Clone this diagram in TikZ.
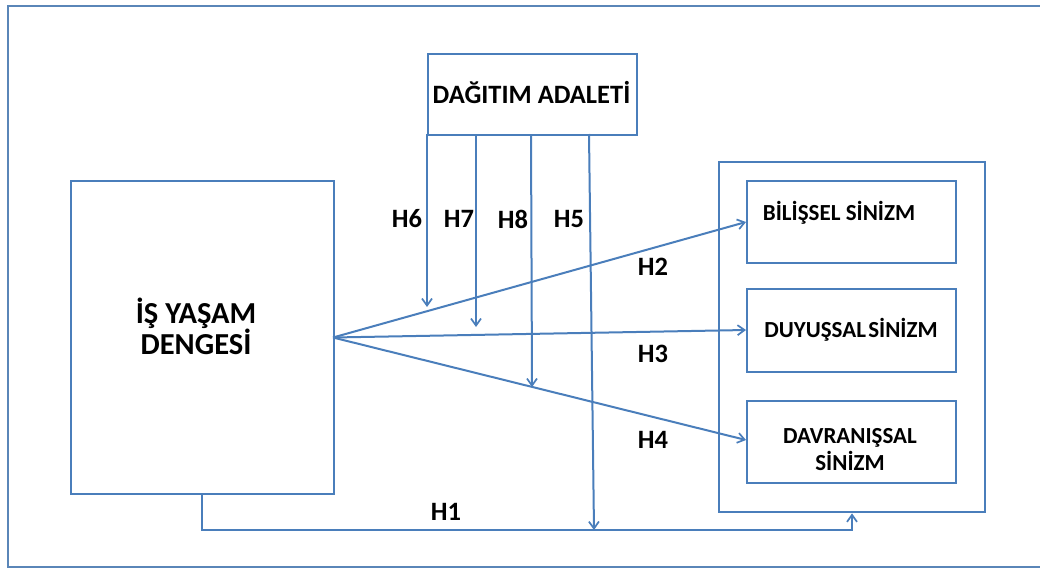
\documentclass[tikz,border=0pt]{standalone}
\usepackage{fontspec}
\setmainfont{Carlito}
\usetikzlibrary{arrows.meta}
\definecolor{ln}{HTML}{4A7EBB}
\definecolor{fr}{HTML}{5A86B8}
\tikzset{
  box/.style={draw=ln, line width=2.4pt, fill=white, inner sep=0pt},
  txt/.style={inner sep=0pt, font=\bfseries\fontsize{26.5}{30}\selectfont, text=black},
  stxt/.style={inner sep=0pt, font=\bfseries\fontsize{23}{27}\selectfont, text=black, align=center},
  conn/.style={draw=ln, line width=2pt},
  arr/.style={conn, -{Straight Barb[length=7pt,width=10pt,line width=1.7pt]}},
}
\begin{document}
\begin{tikzpicture}[x=1pt,y=-1pt]
\useasboundingbox (0,0) rectangle (1040,568);
% outer frame
\draw[draw=fr, line width=2.4pt] (1045,6) -- (8,6) -- (8,567) -- (1045,567);
% boxes
\node[box, minimum width=209pt, minimum height=81pt, anchor=north west] (da) at (427,53) {};
\node[txt] (datxt) at (531.5,93) {DAĞITIM ADALETİ};
\node[box, minimum width=263pt, minimum height=313pt, anchor=north west] (is) at (70,180) {};
\node[txt, font=\bfseries\fontsize{30.5}{31}\selectfont, align=center] (istxt) at (196,326) {İŞ YAŞAM\\DENGESİ};
\node[box, minimum width=266pt, minimum height=350pt, anchor=north west] (grp) at (718,161) {};
\node[box, minimum width=209pt, minimum height=82pt, anchor=north west] (b1) at (746,180) {};
\node[stxt] (b1t) at (839,213) {BİLİŞSEL SİNİZM};
\node[box, minimum width=209pt, minimum height=83pt, anchor=north west] (b2) at (746,288) {};
\node[stxt] (b2t) at (851,330) {DUYUŞSAL\hspace{0.1em}SİNİZM};
\node[box, minimum width=209pt, minimum height=82pt, anchor=north west] (b3) at (746,400) {};
\node[stxt] (b3t) at (850,450) {DAVRANIŞSAL\\SİNİZM};
% coordinates
\coordinate (src) at (333,337.5);
\coordinate (h1a) at (202,530);
\coordinate (h1b) at (852,530);
\coordinate (h6s) at (427,134);
\coordinate (h6e) at (427,307);
\coordinate (h7s) at (476,134);
\coordinate (h7e) at (476,327);
\coordinate (h8s) at (531,134);
\coordinate (h8e) at (532,387);
\coordinate (h5s) at (589,134);
\coordinate (h5e) at (594,530);
% connectors
\draw[arr] (src) -- (b1.west |- 0,222);
\draw[arr] (src) -- (b2.west |- 0,330);
\draw[arr] (src) -- (b3.west |- 0,440);
\draw[arr] (h6s) -- (h6e);
\draw[arr] (h7s) -- (h7e);
\draw[arr] (h8s) -- (h8e);
\draw[arr] (h5s) -- (h5e);
\draw[arr] (is.south -| h1a) -- (h1a) -- (h1b) -- (grp.south -| h1b);
% labels
\node[txt] (l6) at (407,219) {H6};
\node[txt] (l7) at (459,219) {H7};
\node[txt] (l8) at (513,219) {H8};
\node[txt] (l5) at (569,219) {H5};
\node[txt] (l2) at (653,267) {H2};
\node[txt] (l3) at (653,354) {H3};
\node[txt] (l4) at (653,440) {H4};
\node[txt] (l1) at (446,512) {H1};
\end{tikzpicture}
\end{document}
